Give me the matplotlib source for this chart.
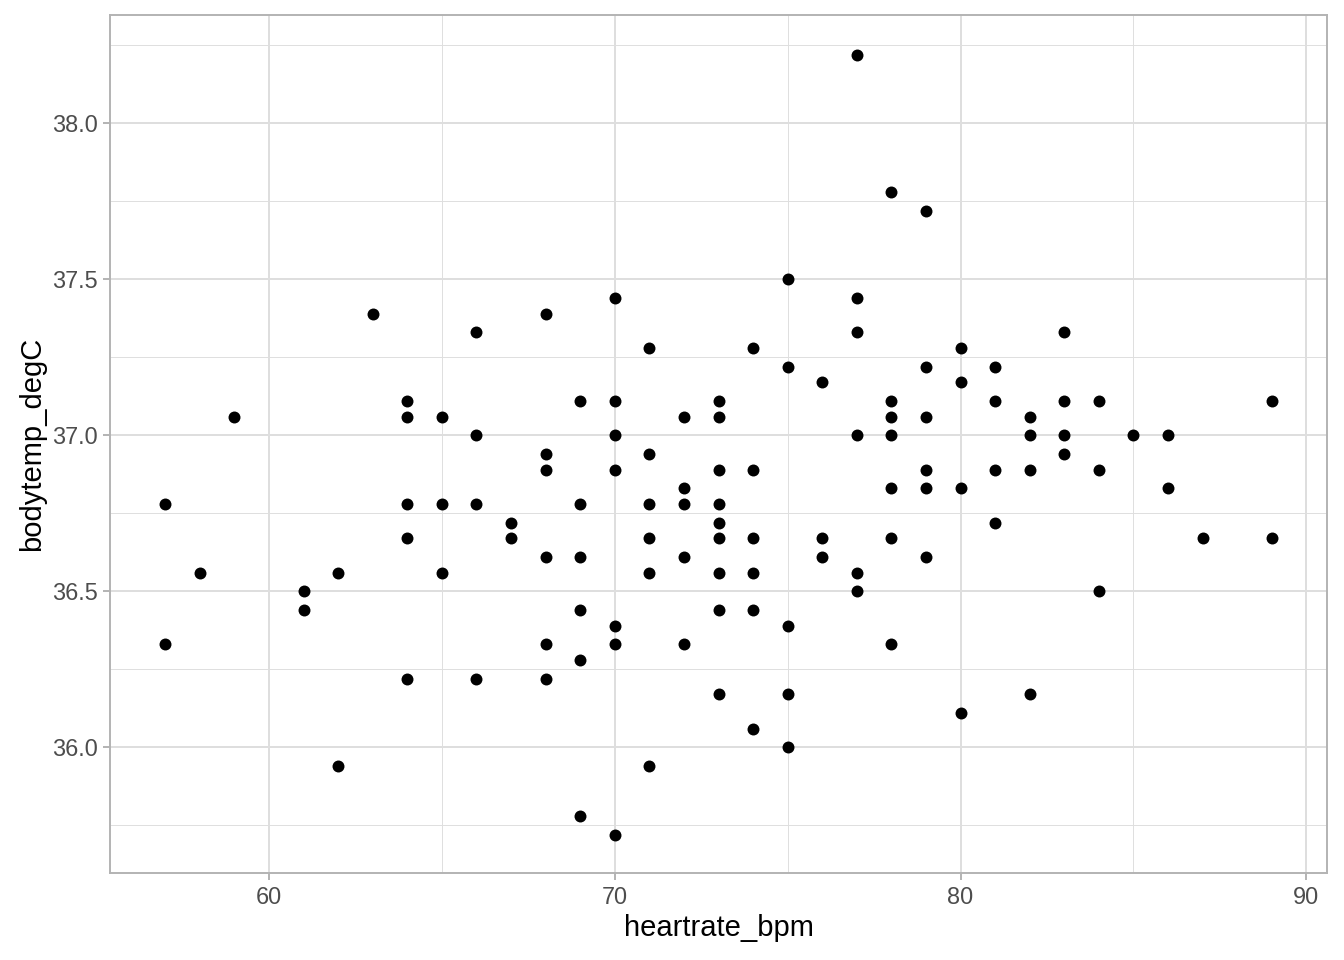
import matplotlib.pyplot as plt
from matplotlib.ticker import MultipleLocator

plt.rcParams['font.family'] = ['Liberation Sans', 'DejaVu Sans']

# heart rate (bpm) and body temperature (deg C)
heartrate_bpm = [57, 57, 58, 59, 61, 61, 62, 62, 63,
                 64, 64, 64, 64, 64, 65, 65, 65, 66, 66, 66, 66, 67, 67,
                 68, 68, 68, 68, 68, 68, 69, 69, 69, 69, 69, 69,
                 70, 70, 70, 70, 70, 70, 70, 71, 71, 71, 71, 71, 71,
                 72, 72, 72, 72, 72, 73, 73, 73, 73, 73, 73, 73, 73, 73,
                 74, 74, 74, 74, 74, 74, 75, 75, 75, 75, 75, 76, 76, 76,
                 77, 77, 77, 77, 77, 77, 78, 78, 78, 78, 78, 78, 78,
                 79, 79, 79, 79, 79, 79, 80, 80, 80, 80, 81, 81, 81, 81,
                 82, 82, 82, 82, 83, 83, 83, 83, 84, 84, 84, 85, 86, 86,
                 87, 89, 89]
bodytemp_degC = [36.78, 36.33, 36.56, 37.06, 36.50, 36.44, 36.56, 35.94, 37.39,
                 37.11, 37.06, 36.78, 36.67, 36.22, 37.06, 36.78, 36.56, 37.33, 37.00, 36.78, 36.22, 36.72, 36.67,
                 37.39, 36.94, 36.89, 36.61, 36.33, 36.22, 37.11, 36.78, 36.61, 36.44, 36.28, 35.78,
                 37.44, 37.11, 37.00, 36.89, 36.39, 36.33, 35.72, 37.28, 36.94, 36.78, 36.67, 36.56, 35.94,
                 37.06, 36.83, 36.78, 36.61, 36.33, 37.11, 37.06, 36.89, 36.78, 36.72, 36.67, 36.56, 36.44, 36.17,
                 37.28, 36.89, 36.67, 36.56, 36.44, 36.06, 37.50, 37.22, 36.39, 36.17, 36.00, 37.17, 36.67, 36.61,
                 38.22, 37.44, 37.33, 37.00, 36.56, 36.50, 37.78, 37.11, 37.06, 37.00, 36.83, 36.67, 36.33,
                 37.72, 37.22, 37.06, 36.89, 36.83, 36.61, 37.28, 37.17, 36.83, 36.11, 37.22, 37.11, 36.89, 36.72,
                 37.06, 37.00, 36.89, 36.17, 37.33, 37.11, 37.00, 36.94, 37.11, 36.89, 36.50, 37.00, 37.00, 36.83,
                 36.67, 37.11, 36.67]

fig = plt.figure(figsize=(13.44, 9.6), dpi=100)
ax = fig.add_axes([0.0818, 0.0906, 0.9056, 0.8938])

ax.scatter(heartrate_bpm, bodytemp_degC, s=74, color='black', linewidths=0, zorder=3)

ax.set_xlim(55.4, 90.6)
ax.set_ylim(35.597, 38.347)
ax.xaxis.set_major_locator(MultipleLocator(10))
ax.xaxis.set_minor_locator(MultipleLocator(5))
ax.yaxis.set_major_locator(MultipleLocator(0.5))
ax.yaxis.set_minor_locator(MultipleLocator(0.25))
ax.yaxis.set_major_formatter(lambda v, p: f'{v:.1f}')

# theme_light look
ax.grid(which='major', color='#DEDEDE', linewidth=1.4, zorder=0)
ax.grid(which='minor', color='#DEDEDE', linewidth=0.7, zorder=0)
ax.set_axisbelow(True)
for s in ax.spines.values():
    s.set_color('#B3B3B3')
    s.set_linewidth(1.4)
ax.tick_params(which='major', length=5, width=1.4, color='#B3B3B3',
               labelsize=16.9, labelcolor='#4D4D4D', pad=4)
ax.tick_params(which='minor', length=0)

ax.set_xlabel('heartrate_bpm', fontsize=21, color='black', labelpad=4)
ax.set_ylabel('bodytemp_degC', fontsize=21, color='black', labelpad=4)

fig.savefig('out.png', dpi=100)
